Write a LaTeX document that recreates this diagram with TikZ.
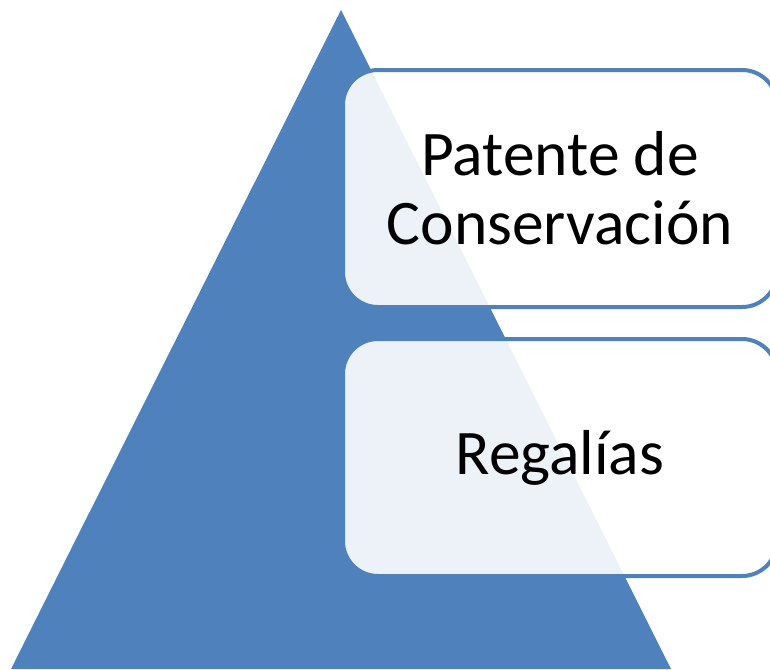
\documentclass[tikz,border=0pt]{standalone}
\usepackage{fontspec}
\setmainfont{Carlito}
\usepackage{tikz}
\definecolor{pyrblue}{RGB}{79,129,189}

\begin{document}
\begin{tikzpicture}[x=1pt,y=-1pt,
		levelbox/.style={draw=pyrblue,line width=4pt,fill=white,fill opacity=0.9,text opacity=1,
			rounded corners=35pt,minimum width=434pt,minimum height=237pt,inner sep=0pt,
			align=center,font=\fontsize{63.5}{69}\selectfont}]
		\clip (0,0) rectangle (770,669);
		\fill[pyrblue] (341,10) coordinate (apex) -- (11,669) -- (671,669) -- cycle;

		\node[levelbox] (patente) at (560,188.5) {Patente de\\Conservación};
		\node[levelbox] (regalias) at (560,457.5) {Regalías};
	\end{tikzpicture}
\end{document}
